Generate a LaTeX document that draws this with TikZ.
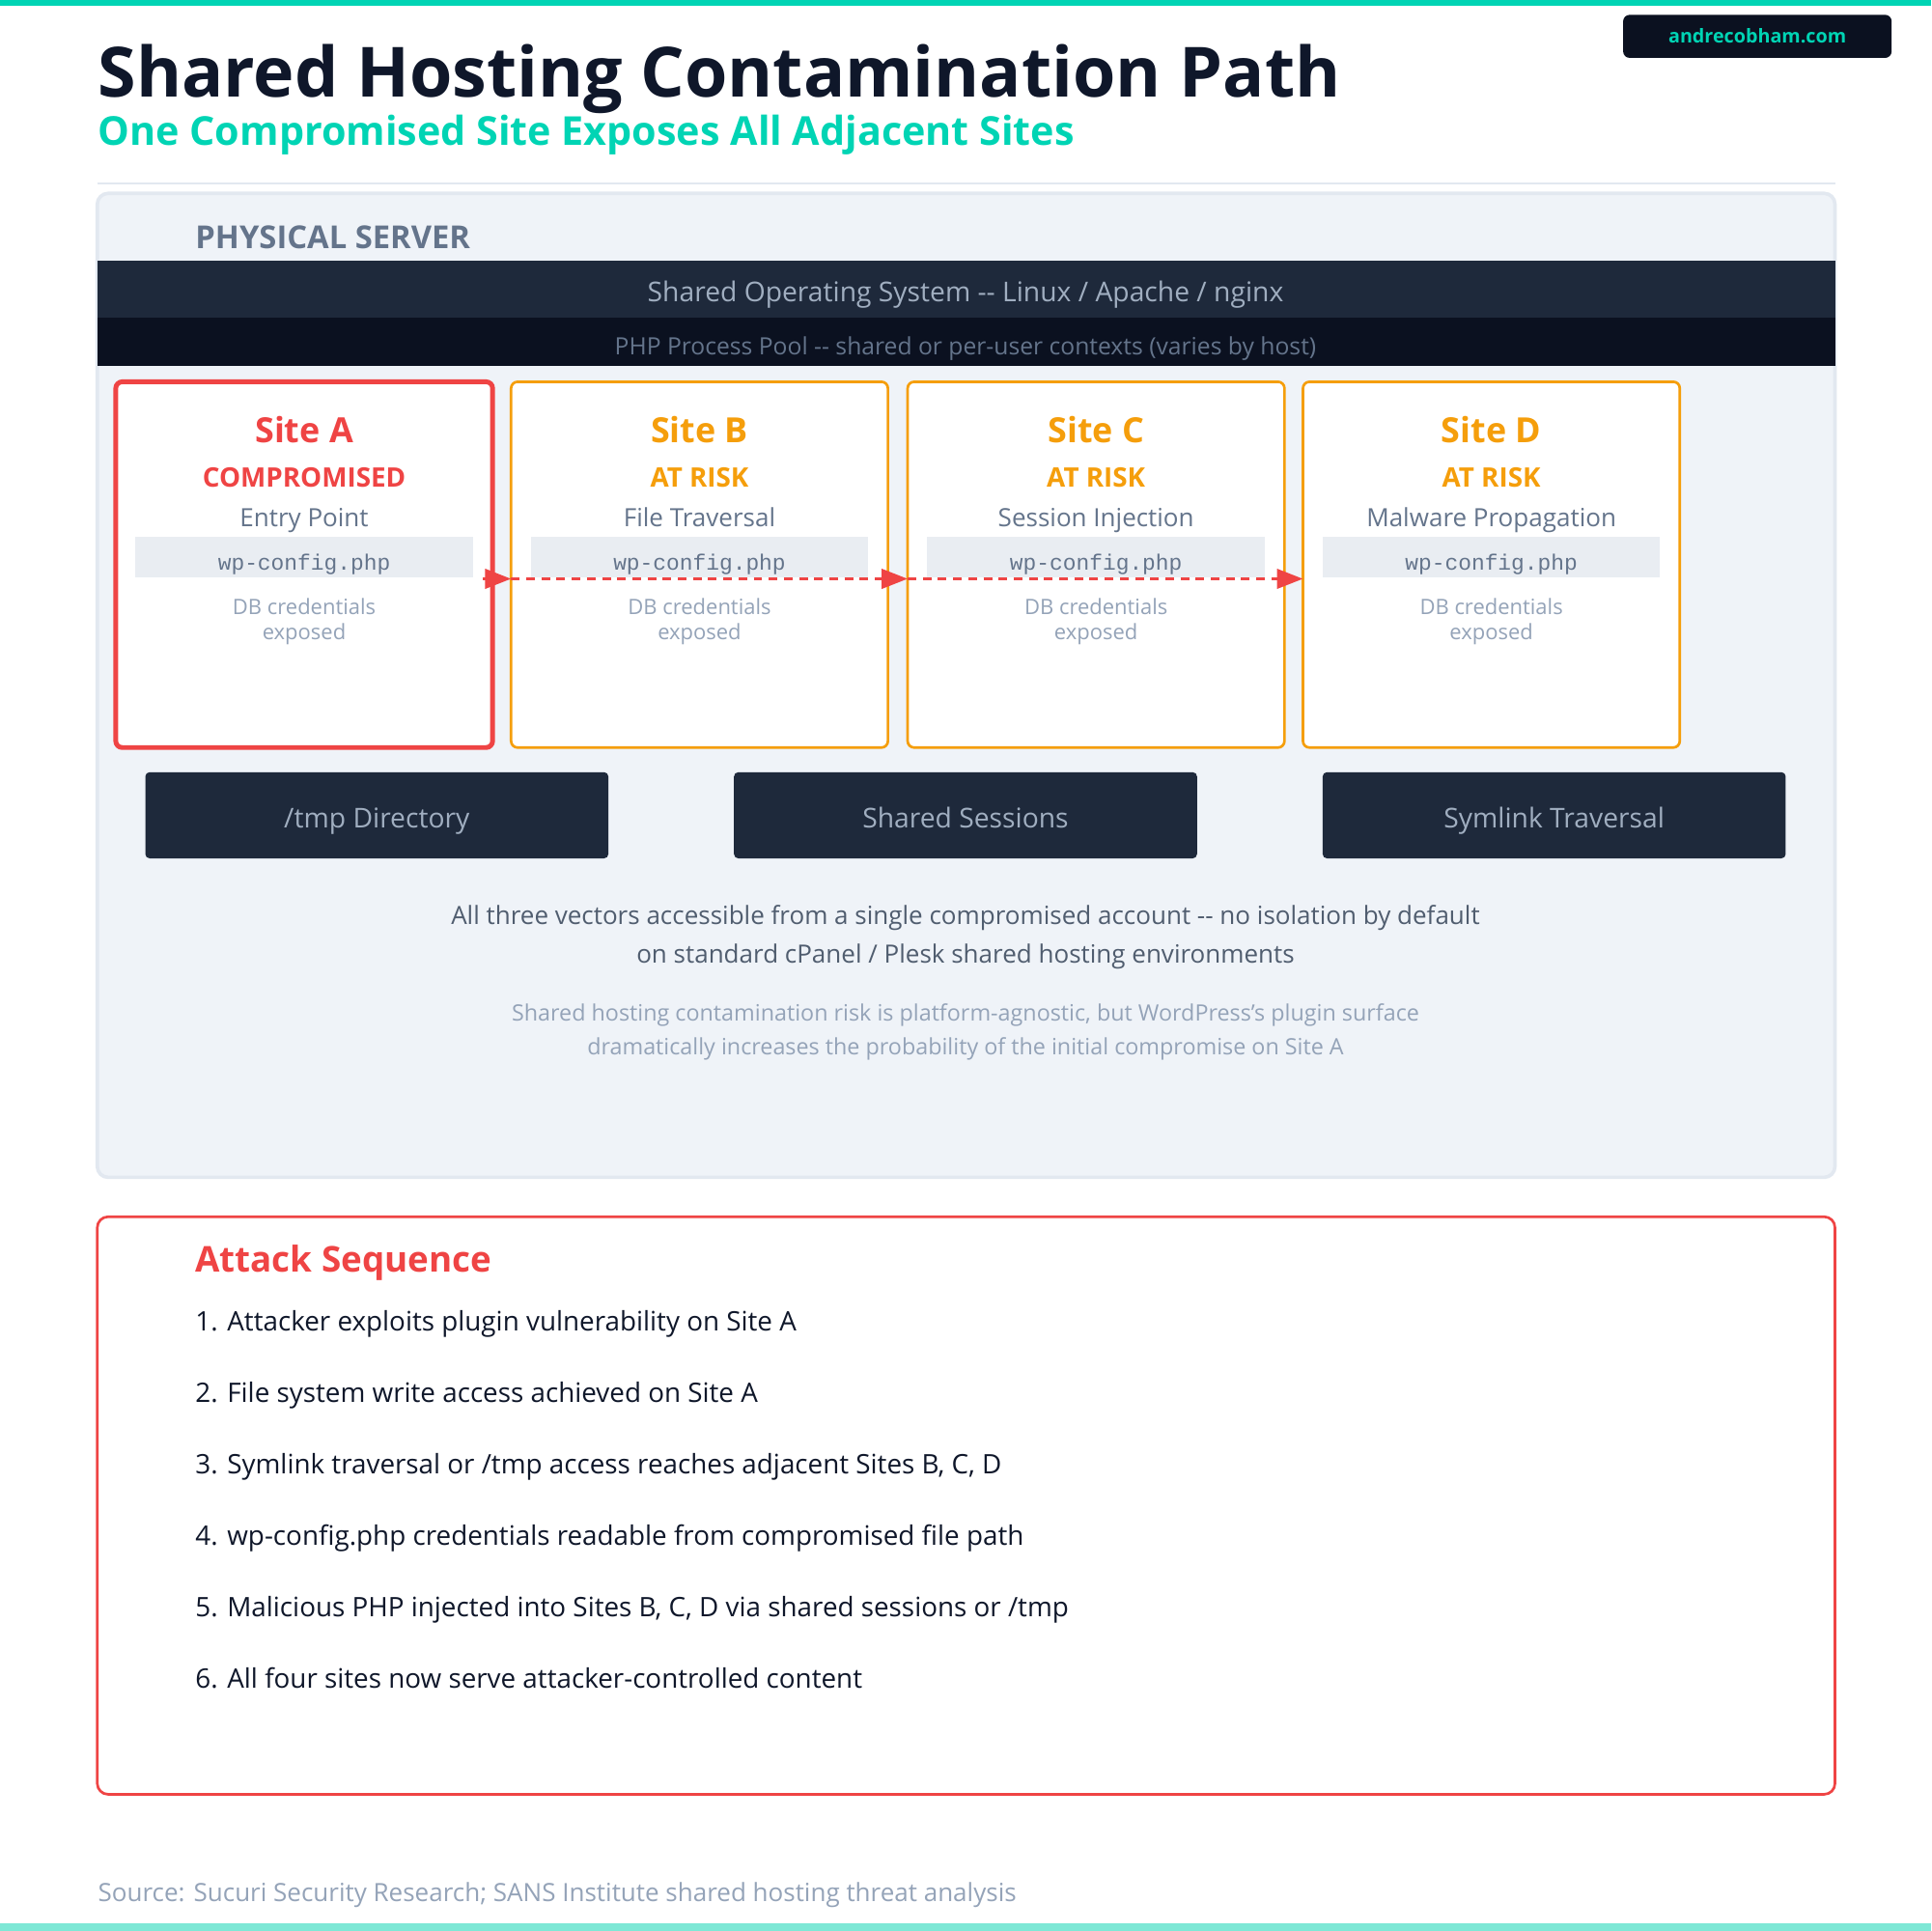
\documentclass[tikz,border=0pt]{standalone}
\usepackage{fontspec}
\setmainfont{Open Sans}
\setmonofont{Liberation Mono}
\usetikzlibrary{arrows.meta}
\definecolor{teal}{HTML}{00D4B4}
\definecolor{lteal}{HTML}{7EE8D6}
\definecolor{ink}{HTML}{0F172A}
\definecolor{dark}{HTML}{1E293B}
\definecolor{darker}{HTML}{0B1120}
\definecolor{slate}{HTML}{64748B}
\definecolor{light}{HTML}{94A3B8}
\definecolor{pale}{HTML}{A0AEC0}
\definecolor{panel}{HTML}{EFF3F8}
\definecolor{pborder}{HTML}{E2E8F0}
\definecolor{red}{HTML}{EF4444}
\definecolor{orange}{HTML}{F59E0B}
\definecolor{codebg}{HTML}{E9EDF2}
\newcommand{\fs}[1]{\fontsize{#1}{#1}\selectfont}
\begin{document}
\begin{tikzpicture}[x=0.01cm,y=-0.01cm,
  site/.style={draw=orange,line width=0.6pt,fill=white,rounded corners=1.5pt},
  vec/.style={fill=dark,draw=none,rounded corners=1pt},
  vtxt/.style={text=pale,font=\fs{6.3},text height=1.6ex,text depth=0.4ex},
  arr/.style={red,line width=0.7pt,dash pattern=on 2pt off 1.5pt,-{Triangle[length=6pt,width=4.5pt]}}]
\useasboundingbox (0,0) rectangle (1568,1568);
\fill[white] (0,0) rectangle (1568,1568);
\fill[teal] (0,0) rectangle (1568,5);
\fill[lteal] (0,1562) rectangle (1568,1568);
\fill[darker,rounded corners=1.5pt] (1318,12) rectangle (1536,47);
\node[text=teal,font=\bfseries\fs{4.4}] (badge) at (1427,29) {andrecobham.com};
\node[anchor=base west,inner sep=0,text=ink,font=\bfseries\fs{16}] (title) at (79,79) {Shared Hosting Contamination Path};
\node[anchor=base west,inner sep=0,text=teal,font=\bfseries\fs{9.2}] (sub) at (79,118) {One Compromised Site Exposes All Adjacent Sites};
\draw[pborder,line width=0.6pt] (79,149) -- (1490,149);
% server panel
\draw[fill=panel,draw=pborder,line width=0.8pt,rounded corners=2.5pt] (79,157) rectangle (1490,956);
\node[anchor=base west,inner sep=0,text=slate,font=\bfseries\fs{7.3}] (phys) at (158,202) {PHYSICAL SERVER};
\fill[dark] (79,212) rectangle (1490,258);
\node[text=pale,font=\fs{6.3},text height=1.6ex,text depth=0.4ex] (os) at (784,234) {Shared Operating System -{}- Linux / Apache / nginx};
\fill[darker] (79,258) rectangle (1490,297);
\node[text=slate,font=\fs{5.5},text height=1.6ex,text depth=0.4ex] (php) at (784,277) {PHP Process Pool -{}- shared or per-user contexts (varies by host)};
% sites
\foreach \n/\x/\t/\s/\d/\c/\w in {A/94/Site A/COMPROMISED/Entry Point/red/1.1pt,B/415/Site B/AT RISK/File Traversal/orange/0.6pt,C/737/Site C/AT RISK/Session Injection/orange/0.6pt,D/1058/Site D/AT RISK/Malware Propagation/orange/0.6pt}{
  \draw[site,draw=\c,line width=\w] (\x,310) rectangle ++(306,297);
  \node[text=\c,font=\bfseries\fs{8},text height=1.6ex,text depth=0.4ex] (t\n) at (\x+153,348) {\t};
  \node[text=\c,font=\bfseries\fs{6.2},text height=1.6ex,text depth=0.4ex] (s\n) at (\x+153,384) {\s};
  \node[text=slate,font=\fs{5.8},text height=1.6ex,text depth=0.4ex] (d\n) at (\x+153,416) {\d};
  \fill[codebg] (\x+16,436) rectangle ++(274,33);
  \node[text=slate,font=\ttfamily\fs{5.1},text height=1.6ex,text depth=0.4ex] (w\n) at (\x+153,452) {wp-config.php};
  \node[text=light,font=\fs{4.9},text height=1.6ex,text depth=0.4ex] (e\n) at (\x+153,488) {DB credentials};
  \node[text=light,font=\fs{4.9},text height=1.6ex,text depth=0.4ex] (f\n) at (\x+153,508) {exposed};
}
\coordinate (ae) at (392,470); \coordinate (bw) at (415,470);
\coordinate (cw) at (737,470); \coordinate (dw) at (1058,470);
\draw[arr] (ae) -- (bw);
\draw[arr] (bw) -- (cw);
\draw[arr] (cw) -- (dw);
% vectors
\fill[vec] (118,627) rectangle (494,697);
\node[vtxt] (v1) at (306,661) {/tmp Directory};
\fill[vec] (596,627) rectangle (972,697);
\node[vtxt] (v2) at (784,661) {Shared Sessions};
\fill[vec] (1074,627) rectangle (1450,697);
\node[vtxt] (v3) at (1262,661) {Symlink Traversal};
\node[text=slate!80!black,font=\fs{5.8}] (n1) at (784,745) {All three vectors accessible from a single compromised account -{}- no isolation by default};
\node[text=slate!80!black,font=\fs{5.8}] (n2) at (784,777) {on standard cPanel / Plesk shared hosting environments};
\node[text=light,font=\fs{5.2}] (n3) at (784,824) {Shared hosting contamination risk is platform-agnostic, but WordPress's plugin surface};
\node[text=light,font=\fs{5.2}] (n4) at (784,852) {dramatically increases the probability of the initial compromise on Site A};
% attack
\draw[red,line width=0.6pt,fill=white,rounded corners=2.5pt] (79,988) rectangle (1490,1457);
\node[anchor=base west,inner sep=0,text=red,font=\bfseries\fs{8.2}] (as) at (158,1033) {Attack Sequence};
\foreach \i/\t in {0/{1. Attacker exploits plugin vulnerability on Site A},1/{2. File system write access achieved on Site A},2/{3. Symlink traversal or /tmp access reaches adjacent Sites B, C, D},3/{4. wp-config.php credentials readable from compromised file path},4/{5. Malicious PHP injected into Sites B, C, D via shared sessions or /tmp},5/{6. All four sites now serve attacker-controlled content}}{
  \node[anchor=base west,inner sep=0,text=ink,font=\fs{6.2}] at (158,1081+58*\i) {\t};}
\node[anchor=base west,inner sep=0,text=light,font=\fs{5.8}] (src) at (79,1544) {Source: Sucuri Security Research; SANS Institute shared hosting threat analysis};
\end{tikzpicture}
\end{document}
